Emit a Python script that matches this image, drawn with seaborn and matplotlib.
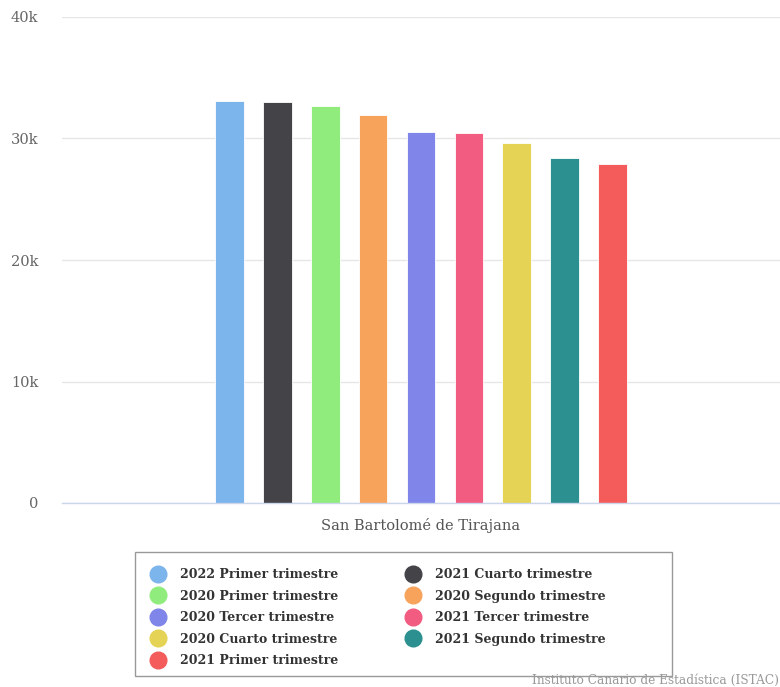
import numpy as np
import pandas as pd
import seaborn as sns
from matplotlib import pyplot as plt
from matplotlib.lines import Line2D
from matplotlib.patches import Rectangle
from matplotlib.ticker import FuncFormatter

# Datos (ordenados de mayor a menor)
municipio = 'San Bartolomé de Tirajana'
periodos = ['2022 Primer trimestre', '2021 Cuarto trimestre', '2020 Primer trimestre',
            '2020 Segundo trimestre', '2020 Tercer trimestre', '2021 Tercer trimestre',
            '2020 Cuarto trimestre', '2021 Segundo trimestre', '2021 Primer trimestre']
valores = [33080, 32990, 32700, 31950, 30560, 30430, 29650, 28420, 27920]
colores = ['#7cb5ec', '#434348', '#90ed7d', '#f7a35c', '#8085e9',
           '#f15c80', '#e4d354', '#2b908f', '#f45b5b']

df = pd.DataFrame({'municipio': [municipio] * len(periodos),
                   'periodo': periodos,
                   'valor': valores})

sns.set_style('white')
plt.rcParams['font.family'] = ['DejaVu Serif', 'DejaVu Sans']

fig = plt.figure(figsize=(7.8, 6.87), dpi=100)
ax = fig.add_axes([62 / 780, 1 - 503 / 687, 1 - 62 / 780, (503 - 17) / 687])

sns.barplot(data=df, x='municipio', y='valor', hue='periodo', hue_order=periodos,
            palette=colores, saturation=1, width=0.6, gap=0.4, edgecolor='white',
            linewidth=0.6, legend=False, ax=ax)

ax.set_xlim(-0.5, 0.5)
ax.set_ylim(0, 40000)
ax.set_yticks([0, 10000, 20000, 30000, 40000])
ax.yaxis.set_major_formatter(FuncFormatter(lambda v, p: '0' if v == 0 else f'{int(v / 1000)}k'))
ax.grid(axis='y', color='#e6e6e6', linewidth=1)
ax.set_axisbelow(True)
for s in ['top', 'right', 'left']:
    ax.spines[s].set_visible(False)
ax.spines['bottom'].set_color('#ccd6eb')
ax.spines['bottom'].set_linewidth(1)
ax.tick_params(axis='y', length=0, labelsize=10.5, labelcolor='#666666', pad=17)
ax.tick_params(axis='x', length=0, labelsize=10.5, labelcolor='#555555', pad=11)
ax.set_xlabel('')
ax.set_ylabel('')

# leyenda en dos columnas, orden por filas
handles = [Line2D([], [], marker='o', linestyle='none', markersize=12,
                  markerfacecolor=c, markeredgecolor=c) for c in colores]
idx = list(range(0, 9, 2)) + list(range(1, 9, 2))
leg = fig.legend([handles[i] for i in idx], [periodos[i] for i in idx], ncol=2,
                 loc='upper left', bbox_to_anchor=(144 / 780, 1 - 562 / 687),
                 frameon=False, borderpad=0, labelspacing=0.68, handletextpad=1.14,
                 handlelength=1.2, columnspacing=5.45,
                 prop={'size': 9, 'weight': 'bold'})
for t in leg.get_texts():
    t.set_color('#333333')

fig.patches.append(Rectangle((135 / 780, 1 - 676 / 687), (672 - 135) / 780, 124 / 687,
                             transform=fig.transFigure, fill=False,
                             edgecolor='#999999', linewidth=1))

fig.text(0.999, 1 - 680 / 687, 'Instituto Canario de Estadística (ISTAC)', ha='right', va='center',
         fontsize=8.7, color='#999999')

fig.savefig('out.png', dpi=100)
